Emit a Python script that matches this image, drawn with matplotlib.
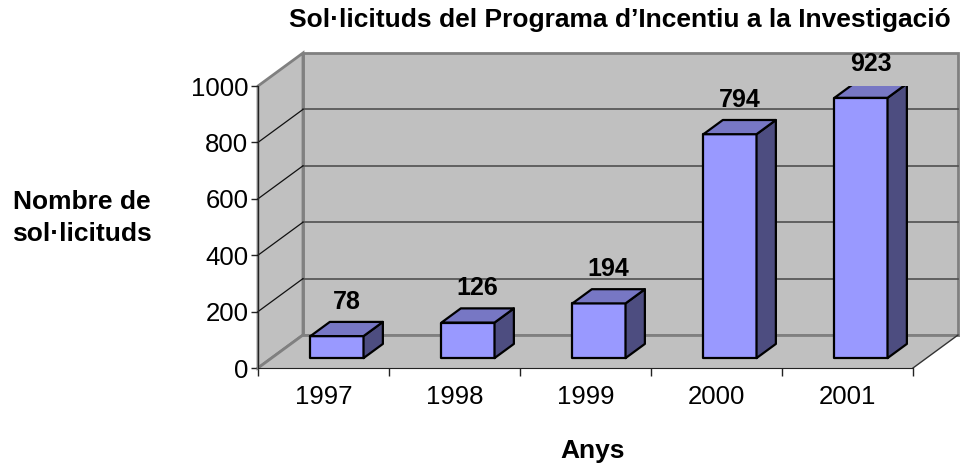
import matplotlib
matplotlib.use("Agg")
import matplotlib.pyplot as plt
from matplotlib.patches import Polygon

plt.rcParams['font.family'] = ['Liberation Sans', 'DejaVu Sans']

# dades
anys = ['1997', '1998', '1999', '2000', '2001']
sollicituds = [78, 126, 194, 794, 923]
yticks = [0, 200, 400, 600, 800, 1000]

# colors estil Excel
c_front = '#9999FF'
c_top = '#7777C4'
c_side = '#4D4D80'
c_wall = '#C0C0C0'
c_edge = '#808080'

# profunditat 3D (en unitats de dades)
DX = 45 / 131.0
DY = 33 / 0.282
bar_w = 0.405
d0, d1 = 0.30, 0.73

fig = plt.figure(figsize=(9.71, 4.70), dpi=100)
ax = fig.add_axes([258 / 971, (470 - 368) / 470, (913 - 258) / 971, (368 - 86) / 470])
ax.set_xlim(-0.5, 4.5)
ax.set_ylim(0, 1000)
ax.patch.set_visible(False)
for s in ['top', 'right']:
    ax.spines[s].set_visible(False)
ax.spines['left'].set_color('#222222')
ax.spines['bottom'].set_color('#222222')
ax.spines['left'].set_zorder(5)
ax.spines['bottom'].set_zorder(5)

x0, x1 = -0.5, 4.5
ymax = yticks[-1]

# parets i terra
back = Polygon([(x0 + DX, DY), (x1 + DX, DY), (x1 + DX, ymax + DY), (x0 + DX, ymax + DY)],
               closed=True, fc=c_wall, ec=c_edge, lw=2, clip_on=False, zorder=1)
left = Polygon([(x0, 0), (x0 + DX, DY), (x0 + DX, ymax + DY), (x0, ymax)],
               closed=True, fc=c_wall, ec=c_edge, lw=2, clip_on=False, zorder=1)
floor = Polygon([(x0, 0), (x1, 0), (x1 + DX, DY), (x0 + DX, DY)],
                closed=True, fc=c_wall, ec='none', lw=0, clip_on=False, zorder=1)
ax.add_patch(back)
ax.add_patch(left)
ax.add_patch(floor)
ax.plot([x0 + DX, x1 + DX], [DY, DY], color=c_edge, lw=2, clip_on=False, zorder=2)
ax.plot([x0, x0 + DX], [0, DY], color=c_edge, lw=2, clip_on=False, zorder=2)
ax.plot([x1, x1 + DX], [0, DY], color='#333333', lw=1, clip_on=False, zorder=2)

# linies de graella
for v in yticks[1:-1]:
    ax.plot([x0 + DX, x1 + DX], [v + DY, v + DY], color='#505050', lw=1.2, clip_on=False, zorder=2)
    ax.plot([x0, x0 + DX], [v, v + DY], color='#111111', lw=0.9, clip_on=False, zorder=2)

# barres 3D
for i, v in enumerate(sollicituds):
    xl = i - bar_w / 2 + d0 * DX
    xr = xl + bar_w
    yb = d0 * DY
    ddx = (d1 - d0) * DX
    ddy = (d1 - d0) * DY
    front = Polygon([(xl, yb), (xr, yb), (xr, yb + v), (xl, yb + v)],
                    fc=c_front, ec='black', lw=1.6, zorder=4, joinstyle='round')
    top = Polygon([(xl, yb + v), (xr, yb + v), (xr + ddx, yb + v + ddy), (xl + ddx, yb + v + ddy)],
                  fc=c_top, ec='black', lw=1.6, zorder=4, joinstyle='round')
    side = Polygon([(xr, yb), (xr + ddx, yb + ddy), (xr + ddx, yb + v + ddy), (xr, yb + v)],
                   fc=c_side, ec='black', lw=1.6, zorder=4, joinstyle='round')
    ax.add_patch(front)
    ax.add_patch(side)
    ax.add_patch(top)
    ax.text(i + (d0 + d1) / 2 * DX, yb + v + ddy + 71, str(v), ha='center', va='center',
            fontsize=18, fontweight='bold', zorder=6, clip_on=False)

# eixos
ax.set_yticks(yticks)
ax.set_yticklabels([str(t) for t in yticks], fontsize=18.5)
ax.tick_params(axis='y', direction='out', length=5, width=1, color='#222222', pad=2)
ax.set_xticks(range(len(anys)))
ax.set_xticklabels(anys, fontsize=18.5)
ax.set_xticks([k - 0.5 for k in range(len(anys) + 1)], minor=True)
ax.tick_params(axis='x', which='major', length=0, pad=12)
ax.tick_params(axis='x', which='minor', direction='out', length=6, width=1, color='#222222')

fig.text(620 / 971, 1 - 20 / 470, 'Sol·licituds del Programa d’Incentiu a la Investigació',
         ha='center', va='center', fontsize=19, fontweight='bold')
fig.text(82 / 971, 1 - 218 / 470, 'Nombre de\nsol·licituds', ha='center', va='center',
         fontsize=19, fontweight='bold', linespacing=1.4)
fig.text(593 / 971, 1 - 451 / 470, 'Anys', ha='center', va='center',
         fontsize=19, fontweight='bold')

fig.savefig('out.png', dpi=100)
